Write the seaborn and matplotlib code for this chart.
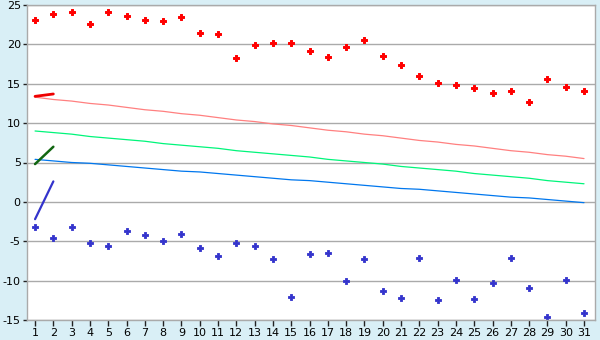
import matplotlib
matplotlib.use("Agg")
import matplotlib.pyplot as plt
import seaborn as sns
import pandas as pd

days = list(range(1, 32))
max_temp = [23.1, 23.8, 24.1, 22.6, 24.1, 23.6, 23.1, 23.0, 23.5, 21.5, 21.3, 18.3, 19.9, 20.2, 20.2,
            19.2, 18.4, 19.7, 20.6, 18.5, 17.4, 16.0, 15.1, 14.8, 14.5, 13.8, 14.1, 12.7, 15.6, 14.6, 14.1]
min_temp = [-3.2, -4.6, -3.2, -5.2, -5.6, -3.7, -4.2, -5.0, -4.1, -5.8, -6.9, -5.2, -5.6, -7.2, -12.1,
            -6.6, -6.5, -10.0, -7.2, -11.3, -12.2, -7.1, -12.5, -9.9, -12.3, -10.3, -7.1, -10.9, -14.6, -9.9, -14.1]
normal_max = [13.3, 13.0, 12.8, 12.5, 12.3, 12.0, 11.7, 11.5, 11.2, 11.0, 10.7, 10.4, 10.2, 9.9, 9.7,
              9.4, 9.1, 8.9, 8.6, 8.4, 8.1, 7.8, 7.6, 7.3, 7.1, 6.8, 6.5, 6.3, 6.0, 5.8, 5.5]
normal_mean = [9.0, 8.8, 8.6, 8.3, 8.1, 7.9, 7.7, 7.4, 7.2, 7.0, 6.8, 6.5, 6.3, 6.1, 5.9,
               5.7, 5.4, 5.2, 5.0, 4.8, 4.5, 4.3, 4.1, 3.9, 3.6, 3.4, 3.2, 3.0, 2.7, 2.5, 2.3]
normal_min = [5.4, 5.2, 5.0, 4.9, 4.7, 4.5, 4.3, 4.1, 3.9, 3.8, 3.6, 3.4, 3.2, 3.0, 2.8,
              2.7, 2.5, 2.3, 2.1, 1.9, 1.7, 1.6, 1.4, 1.2, 1.0, 0.8, 0.6, 0.5, 0.3, 0.1, -0.1]
cur_days = [1, 2]
cur_max = [13.4, 13.7]
cur_mean = [4.8, 7.0]
cur_min = [-2.2, 2.6]

df = pd.DataFrame({"day": days, "max": max_temp, "min": min_temp,
                   "nmax": normal_max, "nmean": normal_mean, "nmin": normal_min})
cdf = pd.DataFrame({"day": cur_days, "max": cur_max, "mean": cur_mean, "min": cur_min})

sns.set_style("white")
plt.rcParams["font.family"] = ["DejaVu Sans"]
plt.rcParams["axes.unicode_minus"] = False
bg = "#d9eff6"
fig = plt.figure(figsize=(6, 3.4), dpi=100, facecolor=bg)
ax = fig.add_axes([27/600, 1-320/340, (595-27)/600, (320-5)/340])
ax.set_facecolor("white")

sns.lineplot(data=df, x="day", y="nmax", ax=ax, color="#ff8080", lw=0.9)
sns.lineplot(data=df, x="day", y="nmean", ax=ax, color="#00f57a", lw=0.9)
sns.lineplot(data=df, x="day", y="nmin", ax=ax, color="#0077ee", lw=0.9)
sns.lineplot(data=cdf, x="day", y="max", ax=ax, color="#ee0000", lw=2)
sns.lineplot(data=cdf, x="day", y="mean", ax=ax, color="#116611", lw=1.8)
sns.lineplot(data=cdf, x="day", y="min", ax=ax, color="#3333cc", lw=1.6)
sns.scatterplot(data=df, x="day", y="max", ax=ax, color="#ff0000", marker="P", s=18,
                linewidth=0.7, edgecolor="#ff0000")
sns.scatterplot(data=df, x="day", y="min", ax=ax, color="#3333cc", marker="P", s=16,
                linewidth=0.6, edgecolor="#3333cc")

ax.set_xlim(0.56, 31.6)
ax.set_ylim(-15, 25)
ax.set_xticks(days)
ax.set_xticklabels([str(d) for d in days])
ax.set_yticks(range(-15, 26, 5))
ax.set_xlabel("")
ax.set_ylabel("")
ax.grid(axis="y", color="#aaaaaa", lw=1)
ax.set_axisbelow(True)
for sp in ax.spines.values():
    sp.set_color("#aaaaaa")
    sp.set_linewidth(1)
ax.tick_params(axis="x", length=4, width=1, color="#222222",
               labelsize=8, labelcolor="black", pad=2, bottom=True)
ax.tick_params(axis="y", length=3, width=1, color="#222222",
               labelsize=8, labelcolor="black", pad=1.5, left=True)

fig.savefig("out.png", dpi=100, facecolor=bg)
